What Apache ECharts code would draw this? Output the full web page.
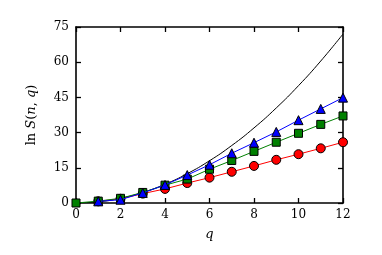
<!DOCTYPE html>
<html><head><meta charset="utf-8">
<script src="https://cdn.jsdelivr.net/npm/echarts@6/dist/echarts.min.js"></script>
<style>html,body{margin:0;padding:0;background:#fff}#c{width:382px;height:255px}</style>
</head><body><div id="c"></div>
<script>
const qCurve = [0,1,2,3,4,5,6,7,8,9,10,11,12];
const curveVals = [0,0.5,2,4.5,8,12.5,18,24.5,32,40.5,50,60.5,72];
const qRed = [1,2,3,4,5,6,7,8,9,10,11,12];
const redVals = [0.7,1.8,4.0,6.0,8.5,10.8,13.3,15.8,18.4,20.8,23.3,25.9];
const qGreen = [0,1,2,3,4,5,6,7,8,9,10,11,12];
const greenVals = [0,0.8,2.0,4.5,7.6,10.2,14.4,18.1,22.0,25.9,29.7,33.5,37.1];
const qBlue = [1,2,3,4,5,6,7,8,9,10,11,12];
const blueVals = [0.7,1.4,4.3,7.7,11.9,16.3,21.2,25.7,30.3,35.3,40.1,44.9];

const font = 'DejaVu Serif';
const pair = (xs, ys) => xs.map((x,i)=>[x, ys[i]]);
const chart = echarts.init(document.getElementById('c'), null, {renderer:'canvas'});
const mk = (extra) => Object.assign({
  type:'value',
  axisLine:{show:true,onZero:false,lineStyle:{color:'#000',width:1.6}},
  axisTick:{show:true,inside:true,length:5,lineStyle:{color:'#000',width:1.3}},
  splitLine:{show:false}
}, extra);
chart.setOption({
  animation:false,
  grid:{left:76,right:39,top:27,bottom:52,containLabel:false},
  xAxis:[
    mk({min:0,max:12,interval:2,position:'bottom',
      name:'q',nameLocation:'middle',nameGap:25,
      nameTextStyle:{fontFamily:font,fontStyle:'italic',fontSize:13,color:'#000'},
      axisLabel:{fontFamily:font,fontSize:12,color:'#000',margin:6}}),
    mk({min:0,max:12,interval:2,position:'top',axisLabel:{show:false}})
  ],
  yAxis:[
    mk({min:0,max:75,interval:15,position:'left',
      name:'{a|ln }{b|S}{a|(}{b|n}{a|, }{b|q}{a|)}',nameLocation:'middle',nameGap:38,nameRotate:90,
      nameTextStyle:{rich:{a:{fontFamily:font,fontSize:13,color:'#000'},b:{fontFamily:font,fontStyle:'italic',fontSize:13,color:'#000'}}},
      axisLabel:{fontFamily:font,fontSize:12,color:'#000',margin:7}}),
    mk({min:0,max:75,interval:15,position:'right',axisLabel:{show:false}})
  ],
  series:[
    {type:'line',data:pair(qCurve,curveVals),smooth:0.5,showSymbol:false,symbol:'none',
      lineStyle:{color:'#000',width:1},z:2,clip:true},
    {type:'line',data:pair(qRed,redVals),symbol:'circle',symbolSize:9,
      lineStyle:{color:'#ff0000',width:1},itemStyle:{color:'#ff0000',borderColor:'#000',borderWidth:1},z:3,clip:true},
    {type:'line',data:pair(qGreen,greenVals),symbol:'rect',symbolSize:8,
      lineStyle:{color:'#008000',width:1},itemStyle:{color:'#008000',borderColor:'#000',borderWidth:1},z:4,clip:true},
    {type:'line',data:pair(qBlue,blueVals),symbol:'triangle',symbolSize:9,
      lineStyle:{color:'#0000ff',width:1},itemStyle:{color:'#0000ff',borderColor:'#000',borderWidth:1},z:5,clip:true}
  ]
});
</script></body></html>
